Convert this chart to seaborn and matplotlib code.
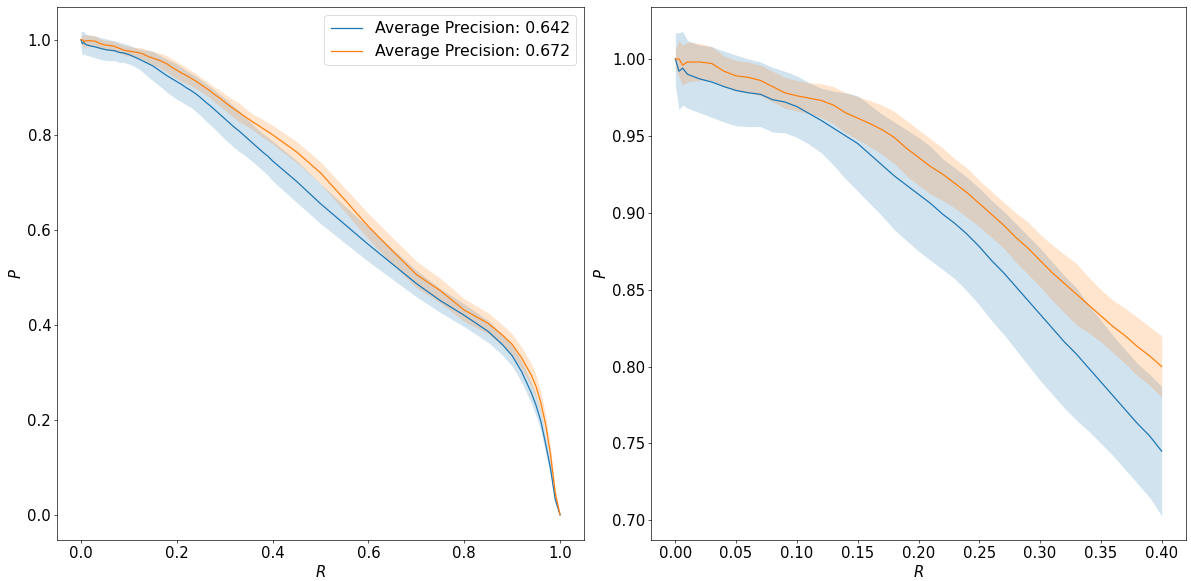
import numpy as np
import pandas as pd
import matplotlib
matplotlib.use("Agg")
import matplotlib.pyplot as plt
import seaborn as sns

# Recall grid (dense at low recall, where the right panel zooms in)
recall = [0.000, 0.003, 0.006, 0.010, 0.020, 0.030, 0.040, 0.050, 0.060, 0.070,
          0.080, 0.090, 0.100, 0.110, 0.120, 0.130, 0.140, 0.150, 0.160, 0.170,
          0.180, 0.190, 0.200, 0.210, 0.220, 0.230, 0.240, 0.250, 0.260, 0.270,
          0.280, 0.290, 0.300, 0.310, 0.320, 0.330, 0.340, 0.350, 0.360, 0.370,
          0.380, 0.390, 0.400, 0.450, 0.500, 0.550, 0.600, 0.650, 0.700, 0.750,
          0.800, 0.850, 0.880, 0.900, 0.920, 0.940, 0.950, 0.960, 0.970, 0.980,
          0.990, 1.000]

# Mean precision and its spread for the first model
prec_a = [1.000, 0.992, 0.994, 0.990, 0.987, 0.985, 0.982, 0.9795, 0.978, 0.977,
          0.9735, 0.972, 0.969, 0.9645, 0.960, 0.955, 0.950, 0.945, 0.938, 0.931,
          0.924, 0.918, 0.912, 0.906, 0.899, 0.893, 0.886, 0.878, 0.869, 0.861,
          0.852, 0.843, 0.834, 0.825, 0.816, 0.808, 0.799, 0.790, 0.781, 0.772,
          0.763, 0.755, 0.745, 0.702, 0.655, 0.612, 0.569, 0.528, 0.487, 0.451,
          0.420, 0.386, 0.358, 0.335, 0.301, 0.257, 0.230, 0.197, 0.149, 0.098,
          0.032, 0.000]
std_a = [0.017, 0.025, 0.024, 0.022, 0.022, 0.023, 0.023, 0.023, 0.022, 0.021,
         0.021, 0.020, 0.020, 0.020, 0.021, 0.024, 0.028, 0.031, 0.032, 0.033,
         0.035, 0.036, 0.037, 0.037, 0.036, 0.036, 0.037, 0.038, 0.039, 0.040,
         0.041, 0.042, 0.043, 0.043, 0.043, 0.043, 0.041, 0.040, 0.039, 0.039,
         0.039, 0.040, 0.042, 0.044, 0.042, 0.039, 0.036, 0.032, 0.028, 0.025,
         0.024, 0.023, 0.022, 0.022, 0.022, 0.022, 0.022, 0.021, 0.019, 0.015,
         0.008, 0.002]

# Mean precision and its spread for the second model
prec_b = [1.000, 1.000, 0.996, 0.998, 0.998, 0.997, 0.992, 0.989, 0.988, 0.986,
          0.982, 0.978, 0.976, 0.9745, 0.973, 0.970, 0.965, 0.9615, 0.958, 0.954,
          0.949, 0.942, 0.936, 0.930, 0.925, 0.919, 0.913, 0.906, 0.899, 0.892,
          0.884, 0.877, 0.869, 0.861, 0.854, 0.847, 0.840, 0.833, 0.826, 0.820,
          0.813, 0.807, 0.800, 0.764, 0.720, 0.664, 0.607, 0.556, 0.506, 0.472,
          0.431, 0.403, 0.378, 0.359, 0.330, 0.294, 0.270, 0.236, 0.190, 0.128,
          0.046, 0.000]
std_b = [0.006, 0.012, 0.013, 0.013, 0.012, 0.011, 0.010, 0.010, 0.010, 0.010,
         0.010, 0.010, 0.010, 0.010, 0.011, 0.012, 0.013, 0.014, 0.015, 0.016,
         0.017, 0.018, 0.018, 0.018, 0.017, 0.016, 0.016, 0.015, 0.015, 0.015,
         0.016, 0.017, 0.017, 0.018, 0.019, 0.020, 0.018, 0.017, 0.017, 0.018,
         0.019, 0.019, 0.020, 0.022, 0.023, 0.025, 0.027, 0.028, 0.028, 0.026,
         0.024, 0.022, 0.022, 0.022, 0.023, 0.024, 0.024, 0.023, 0.020, 0.015,
         0.008, 0.002]

series_labels = ["Average Precision: 0.642", "Average Precision: 0.672"]
series_colors = ["#1f77b4", "#ff7f0e"]
zoom_max_recall = 0.40

df = pd.DataFrame({"R": recall, "P_a": prec_a, "S_a": std_a,
                   "P_b": prec_b, "S_b": std_b})

DPI = 59.55
plt.rcParams.update({"font.size": 18, "font.family": "DejaVu Sans"})

fig = plt.figure(figsize=(1191 / DPI, 581 / DPI), dpi=DPI)
ax_full = fig.add_axes([57 / 1191, 41 / 581, 527 / 1191, 533 / 581])
ax_zoom = fig.add_axes([651 / 1191, 41 / 581, 535 / 1191, 533 / 581])

for ax, rmax in [(ax_full, 1.0), (ax_zoom, zoom_max_recall)]:
    sub = df[df["R"] <= rmax + 1e-9]
    for (pcol, scol), color, label in zip([("P_a", "S_a"), ("P_b", "S_b")],
                                          series_colors, series_labels):
        sns.lineplot(data=sub, x="R", y=pcol, ax=ax, color=color, label=label,
                     estimator=None, linewidth=1.5, legend=False)
        ax.fill_between(sub["R"], sub[pcol] - sub[scol], sub[pcol] + sub[scol],
                        color=color, alpha=0.2, linewidth=0)
    ax.set_xlabel("$R$")
    ax.set_ylabel("$P$")

ax_full.legend(loc="upper right", fontsize=19)
if ax_zoom.get_legend() is not None:
    ax_zoom.get_legend().remove()

fig.savefig("out.png", dpi=DPI)
